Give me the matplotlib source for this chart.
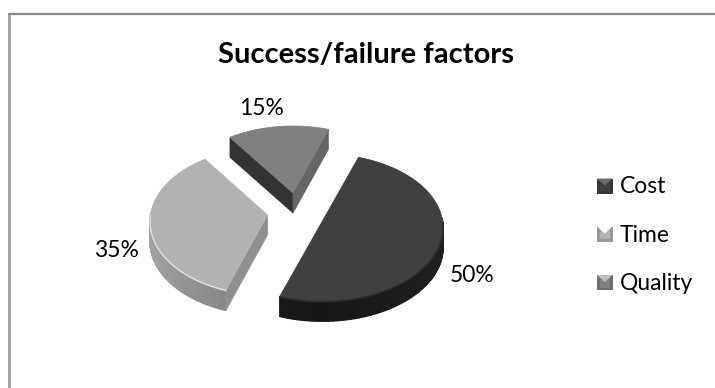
import numpy as np
import matplotlib
matplotlib.use('Agg')
import matplotlib.pyplot as plt
from matplotlib.patches import Polygon, Rectangle

categories = ['Cost', 'Time', 'Quality']
shares = [50, 35, 15]
title = 'Success/failure factors'

# layout, all in image pixels
W, H = 715, 388
start_angle = 71
centers = [(322.5, 221), (267.5, 215), (293, 193)]
radii = [120, 117, 118]
depth = 20
bb = 73
persp = 0.09
top_cols = ['#404040', '#b2b2b2', '#808080']
rim_cols = [('#161616', '#202020'), ('#7a7a7a', '#a2a2a2'), ('#666666', '#666666')]
label_pos = [(472, 282), (116, 257), (262, 115)]
legend_base = [193, 242, 290]
legend_box = [186, 234, 282.5]

plt.rcParams['font.family'] = ['Lato', 'DejaVu Sans']
fig = plt.figure(figsize=(W / 100, H / 100), dpi=100)
ax = fig.add_axes([0, 0, 1, 1])
ax.set_xlim(0, W)
ax.set_ylim(H, 0)
ax.axis('off')

# chart frame, only top and left survive in the crop
ax.plot([8.7, 8.7], [14, H], color='#a0a0a0', lw=2.0, solid_capstyle='butt')
ax.plot([7.5, W], [14.3, 14.3], color='#888888', lw=1.6, solid_capstyle='butt')


def proj(t, r, c):
    s = 1 + persp * np.sin(t)
    return c[0] + r * np.cos(t) / s, c[1] - bb * np.sin(t) / s


def shade(c1, c2, f):
    a = np.array(matplotlib.colors.to_rgb(c1))
    b = np.array(matplotlib.colors.to_rgb(c2))
    return a + (b - a) * f


def cut_face(c, p, col):
    ax.add_patch(Polygon([c, p, (p[0], p[1] + depth), (c[0], c[1] + depth)],
                         fc=col, ec=col, lw=0.5, zorder=3))


def draw_slice(i, a0, a1):
    # a0 > a1, going clockwise
    c, r = centers[i], radii[i]
    ts = np.radians(np.linspace(a0, a1, 160))
    xs, ys = proj(ts, r, c)

    # outer rim, only the part facing us
    for j in range(len(ts) - 1):
        if np.sin(ts[j]) < 0.02 or np.sin(ts[j + 1]) < 0.02:
            f = abs(np.cos(ts[j]))
            col = shade(rim_cols[i][0], rim_cols[i][1], f)
            ax.add_patch(Polygon([(xs[j], ys[j]), (xs[j + 1], ys[j + 1]),
                                  (xs[j + 1], ys[j + 1] + depth), (xs[j], ys[j] + depth)],
                                 fc=col, ec=col, lw=1.0, zorder=2))

    first = (xs[0], ys[0])
    last = (xs[-1], ys[-1])
    if i == 1:
        cut_face(c, first, '#8f8f8f')
    if i == 2:
        cut_face(c, first, '#333333')
        cut_face(c, last, '#666666')

    pts = np.column_stack([np.r_[c[0], xs], np.r_[c[1], ys]])
    ax.add_patch(Polygon(pts, fc=top_cols[i], ec=top_cols[i], lw=0.6, zorder=4))

    # bevel along the front edge of the top face
    front = np.sin(ts) < 0
    if i == 0:
        ax.plot(xs[front], ys[front] + 0.5, color='#2c2c2c', lw=1.2, zorder=5)
    if i == 1:
        ax.plot(xs[front], ys[front], color='#e2e2e2', lw=1.0, zorder=5)


a = start_angle
for i, v in enumerate(shares):
    sweep = v * 3.6
    draw_slice(i, a, a - sweep)
    a -= sweep

for i, v in enumerate(shares):
    ax.text(label_pos[i][0], label_pos[i][1], '%d%%' % v, fontsize=16.5, color='black',
            ha='center', va='baseline')

ax.text(366.5, 63, title, fontsize=21, fontweight='bold', ha='center', va='baseline')

# legend, small bevelled squares
for i, name in enumerate(categories):
    y = legend_box[i]
    x0, x1, y0, y1 = 597, 612.5, y - 7.5, y + 7.5
    base = np.array(matplotlib.colors.to_rgb(top_cols[i]))
    ax.add_patch(Rectangle((x0, y0), x1 - x0, y1 - y0, fc=base * 0.85, ec='none', zorder=5))
    ax.add_patch(Rectangle((x0 + 2.5, y0 + 3), x1 - x0 - 5, y1 - y0 - 5.5, fc=base, ec='none', zorder=5.5))
    ax.add_patch(Polygon([(x0, y0), (x1, y0), ((x0 + x1) / 2, y0 + 7)],
                         fc=np.minimum(base * 1.3 + 0.1, 1), ec='none', zorder=6))
    ax.text(620, legend_base[i], name, fontsize=16.5, ha='left', va='baseline')

fig.savefig('out.png', dpi=100)
